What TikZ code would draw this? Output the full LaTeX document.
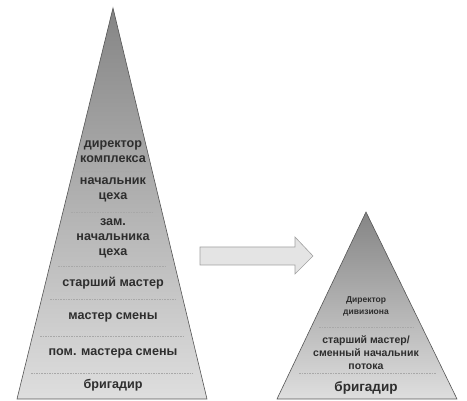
\documentclass[tikz,border=0pt]{standalone}
\usepackage{fontspec}
\setmainfont{Liberation Sans}
\usetikzlibrary{calc}
\definecolor{pyrtop}{HTML}{858585}
\definecolor{pyrbot}{HTML}{DEDEDE}
\definecolor{pyredge}{HTML}{555555}
\definecolor{lbl}{HTML}{2E2E2E}
\definecolor{sepc}{HTML}{A8A8A8}
\definecolor{arrfill}{HTML}{E4E4E4}
\definecolor{arredge}{HTML}{A0A0A0}
\begin{document}
\begin{tikzpicture}[x=1pt,y=-1pt,
  pyr/.style={draw=pyredge,line width=0.6pt,top color=pyrtop,bottom color=pyrbot},
  sep/.style={draw=sepc,line width=0.5pt,dash pattern=on 1.6pt off 1pt},
  lab/.style={text=lbl,font=\fontsize{12.6}{15}\selectfont\bfseries,align=center,inner sep=0pt},
  smalllab/.style={text=lbl,font=\fontsize{8.5}{12}\selectfont\bfseries,align=center,inner sep=0pt},
  blockarrow/.style={draw=arredge,fill=arrfill,line width=0.6pt,line join=miter}]
\useasboundingbox (0,0) rectangle (467,401);
% left pyramid
\coordinate (LA) at (113,8);
\coordinate (LBL) at (17,399);
\coordinate (LBR) at (207,399);
\path[pyr] (LA) -- (LBL) -- (LBR) -- cycle;
\draw[sep] (81,171) -- (144,171);
\draw[sep] (71,212) -- (154,212);
\draw[sep] (58,266) -- (167,266);
\draw[sep] (50,299) -- (175,299);
\draw[sep] (40,336) -- (184,336);
\draw[sep] (31,373) -- (193,373);
\node[lab] (l1) at (113,152) {директор\\комплекса};
\node[lab] (l2) at (113,190) {начальник\\цеха};
\node[lab] (l3) at (113,238) {зам.\\начальника\\цеха};
\node[lab] (l4) at (113,283) {старший мастер};
\node[lab] (l5) at (113,317) {мастер смены};
\node[lab] (l6) at (113,353) {пом. мастера смены};
\node[lab] (l7) at (113,385) {бригадир};
% arrow
\path[blockarrow] (200,247) -- (295,247) -- (295,237) -- (313,256) -- (295,274) -- (295,265) -- (200,265) -- cycle;
% right pyramid
\coordinate (RA) at (366,212);
\coordinate (RBL) at (277,399);
\coordinate (RBR) at (457,399);
\path[pyr] (RA) -- (RBL) -- (RBR) -- cycle;
\draw[sep] (319,327) -- (414,327);
\draw[sep] (299,373) -- (436,373);
\node[smalllab] (r1) at (366,306) {Директор\\дивизиона};
\node[lab,font=\fontsize{10.5}{13}\selectfont\bfseries] (r2) at (366,353) {старший мастер/\\сменный начальник\\потока};
\node[lab,font=\fontsize{13.5}{15}\selectfont\bfseries] (r3) at (366,388) {бригадир};
\end{tikzpicture}
\end{document}
